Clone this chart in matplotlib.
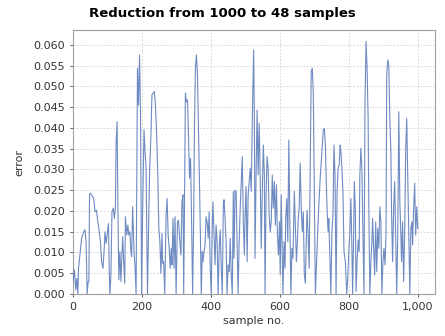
import matplotlib
matplotlib.use("Agg")
import matplotlib.pyplot as plt
from matplotlib.ticker import FuncFormatter, MultipleLocator

title = "Reduction from 1000 to 48 samples"
x_label = "sample no."
y_label = "error"

sample = [0, 4, 8, 11, 14, 16, 25, 28, 33, 35, 38, 41, 44, 46, 48, 51, 57, 60, 64, 68,
          72, 75, 80, 83, 87, 90, 93, 96, 99, 103, 105, 107, 110, 113, 117, 120, 123, 125, 128, 130,
          133, 136, 139, 141, 144, 147, 150, 152, 156, 159, 162, 165, 168, 170, 173, 177, 180, 183, 187, 190,
          193, 196, 199, 202, 206, 209, 212, 216, 219, 222, 226, 229, 233, 236, 239, 242, 246, 249, 252, 255,
          258, 260, 263, 266, 270, 273, 276, 279, 282, 285, 287, 290, 293, 296, 299, 303, 306, 310, 313, 316,
          319, 321, 323, 326, 329, 332, 335, 338, 341, 344, 347, 350, 352, 355, 358, 361, 364, 367, 370, 372,
          375, 377, 380, 383, 386, 389, 392, 395, 398, 401, 404, 406, 409, 412, 415, 418, 421, 424, 427, 430,
          433, 436, 438, 441, 444, 447, 450, 453, 456, 459, 462, 465, 467, 470, 473, 476, 479, 482, 485, 488,
          491, 494, 497, 499, 502, 505, 508, 511, 514, 517, 521, 524, 526, 528, 531, 534, 537, 540, 543, 546,
          549, 552, 555, 557, 560, 563, 566, 569, 572, 575, 578, 581, 584, 587, 590, 593, 596, 599, 601, 604,
          606, 609, 612, 615, 617, 620, 623, 626, 629, 632, 635, 638, 642, 645, 648, 650, 653, 656, 659, 662,
          665, 668, 671, 674, 677, 679, 682, 685, 688, 691, 694, 697, 700, 703, 706, 708, 711, 714, 717, 720,
          723, 726, 729, 732, 735, 738, 740, 742, 745, 748, 751, 754, 757, 760, 763, 766, 769, 772, 775, 777,
          780, 783, 786, 790, 794, 797, 800, 803, 806, 809, 811, 814, 816, 819, 821, 824, 827, 830, 832, 835,
          838, 841, 844, 847, 850, 853, 856, 858, 861, 864, 867, 869, 872, 875, 878, 881, 884, 887, 890, 893,
          896, 899, 902, 905, 908, 910, 913, 916, 919, 922, 924, 927, 930, 933, 936, 939, 942, 945, 948, 951,
          953, 956, 959, 962, 965, 968, 971, 974, 977, 980, 983, 985, 988, 991, 994, 997, 1000]

error = [0.0030, 0.0058, 0.0010, 0.0038, 0.0000, 0.0062, 0.0134, 0.0142, 0.0154, 0.0154,
         0.0126, 0.0000, 0.0030, 0.0030, 0.0240, 0.0243, 0.0234, 0.0230, 0.0198, 0.0202,
         0.0174, 0.0158, 0.0122, 0.0078, 0.0062, 0.0102, 0.0150, 0.0122, 0.0142, 0.0170,
         0.0062, 0.0000, 0.0046, 0.0198, 0.0207, 0.0182, 0.0207, 0.0367, 0.0415, 0.0222,
         0.0034, 0.0102, 0.0030, 0.0078, 0.0138, 0.0078, 0.0026, 0.0186, 0.0142, 0.0166,
         0.0142, 0.0150, 0.0102, 0.0090, 0.0210, 0.0102, 0.0066, 0.0000, 0.0544, 0.0455,
         0.0576, 0.0423, 0.0000, 0.0207, 0.0395, 0.0343, 0.0303, 0.0000, 0.0142, 0.0291,
         0.0383, 0.0480, 0.0484, 0.0488, 0.0455, 0.0399, 0.0287, 0.0158, 0.0126, 0.0050,
         0.0146, 0.0074, 0.0078, 0.0000, 0.0190, 0.0230, 0.0142, 0.0110, 0.0062, 0.0110,
         0.0070, 0.0182, 0.0062, 0.0186, 0.0000, 0.0174, 0.0178, 0.0126, 0.0094, 0.0222,
         0.0239, 0.0000, 0.0174, 0.0484, 0.0463, 0.0468, 0.0383, 0.0279, 0.0327, 0.0174,
         0.0000, 0.0182, 0.0383, 0.0544, 0.0576, 0.0528, 0.0399, 0.0263, 0.0118, 0.0000,
         0.0102, 0.0078, 0.0102, 0.0118, 0.0186, 0.0174, 0.0134, 0.0198, 0.0062, 0.0000,
         0.0166, 0.0222, 0.0142, 0.0070, 0.0166, 0.0126, 0.0000, 0.0110, 0.0154, 0.0062,
         0.0000, 0.0214, 0.0227, 0.0182, 0.0126, 0.0000, 0.0070, 0.0054, 0.0134, 0.0046,
         0.0000, 0.0247, 0.0086, 0.0250, 0.0247, 0.0118, 0.0000, 0.0126, 0.0207, 0.0271,
         0.0331, 0.0174, 0.0094, 0.0182, 0.0259, 0.0078, 0.0239, 0.0271, 0.0303, 0.0247,
         0.0463, 0.0588, 0.0427, 0.0086, 0.0287, 0.0443, 0.0287, 0.0411, 0.0279, 0.0110,
         0.0247, 0.0359, 0.0287, 0.0000, 0.0239, 0.0331, 0.0303, 0.0190, 0.0150, 0.0174,
         0.0287, 0.0207, 0.0271, 0.0166, 0.0263, 0.0142, 0.0094, 0.0174, 0.0046, 0.0239,
         0.0142, 0.0000, 0.0126, 0.0062, 0.0182, 0.0230, 0.0126, 0.0371, 0.0174, 0.0000,
         0.0110, 0.0086, 0.0247, 0.0166, 0.0078, 0.0110, 0.0174, 0.0207, 0.0315, 0.0207,
         0.0150, 0.0198, 0.0046, 0.0026, 0.0142, 0.0202, 0.0142, 0.0062, 0.0303, 0.0536,
         0.0544, 0.0484, 0.0239, 0.0000, 0.0070, 0.0110, 0.0174, 0.0230, 0.0279, 0.0319,
         0.0359, 0.0395, 0.0399, 0.0359, 0.0255, 0.0182, 0.0150, 0.0182, 0.0094, 0.0000,
         0.0150, 0.0190, 0.0359, 0.0287, 0.0000, 0.0247, 0.0303, 0.0311, 0.0359, 0.0343,
         0.0303, 0.0247, 0.0102, 0.0078, 0.0000, 0.0038, 0.0102, 0.0150, 0.0230, 0.0110,
         0.0000, 0.0142, 0.0271, 0.0198, 0.0006, 0.0078, 0.0130, 0.0102, 0.0287, 0.0351,
         0.0303, 0.0142, 0.0000, 0.0463, 0.0608, 0.0544, 0.0423, 0.0214, 0.0000, 0.0078,
         0.0126, 0.0182, 0.0110, 0.0046, 0.0174, 0.0054, 0.0158, 0.0110, 0.0210, 0.0174,
         0.0000, 0.0078, 0.0110, 0.0070, 0.0150, 0.0528, 0.0564, 0.0552, 0.0423, 0.0343,
         0.0198, 0.0078, 0.0207, 0.0271, 0.0142, 0.0000, 0.0142, 0.0439, 0.0222, 0.0142,
         0.0078, 0.0174, 0.0030, 0.0142, 0.0347, 0.0423, 0.0287, 0.0142, 0.0000, 0.0158,
         0.0174, 0.0118, 0.0207, 0.0267, 0.0142, 0.0210, 0.0158]

x_ticks = [0, 200, 400, 600, 800, 1000]
y_ticks = [0.000, 0.005, 0.010, 0.015, 0.020, 0.025, 0.030, 0.035, 0.040, 0.045, 0.050, 0.055, 0.060]

plt.rcParams['font.family'] = ['DejaVu Sans']
fig = plt.figure(figsize=(4.45, 3.36), dpi=100)
ax = fig.add_axes([73 / 445, 1 - 294 / 336, (435 - 73) / 445, (294 - 30) / 336])

ax.plot(sample, error, color='#5577b8', linewidth=0.8, alpha=0.85, zorder=3)

ax.set_xlim(0, 1050)
ax.set_ylim(0, 0.0636)
ax.set_xticks(x_ticks)
ax.set_yticks(y_ticks)
ax.xaxis.set_major_formatter(FuncFormatter(lambda v, p: f"{int(v):,}"))
ax.yaxis.set_major_formatter(FuncFormatter(lambda v, p: f"{v:.3f}"))

ax.grid(True, color='#d0d0d0', linestyle=(0, (2, 2)), linewidth=0.6, zorder=0)
for s in ax.spines.values():
    s.set_color('#a0a0a0')
    s.set_linewidth(0.8)
ax.tick_params(axis='both', labelsize=8, colors='#404040', length=2, width=0.6, pad=4, labelcolor='#333333')

ax.set_xlabel(x_label, fontsize=8, color='#333333', labelpad=3)
ax.set_ylabel(y_label, fontsize=8, color='#333333', labelpad=6)
fig.text(0.5, 1 - 13 / 336, title, ha='center', va='center', fontsize=9.5, fontweight='bold')

fig.savefig("out.png", dpi=100)
